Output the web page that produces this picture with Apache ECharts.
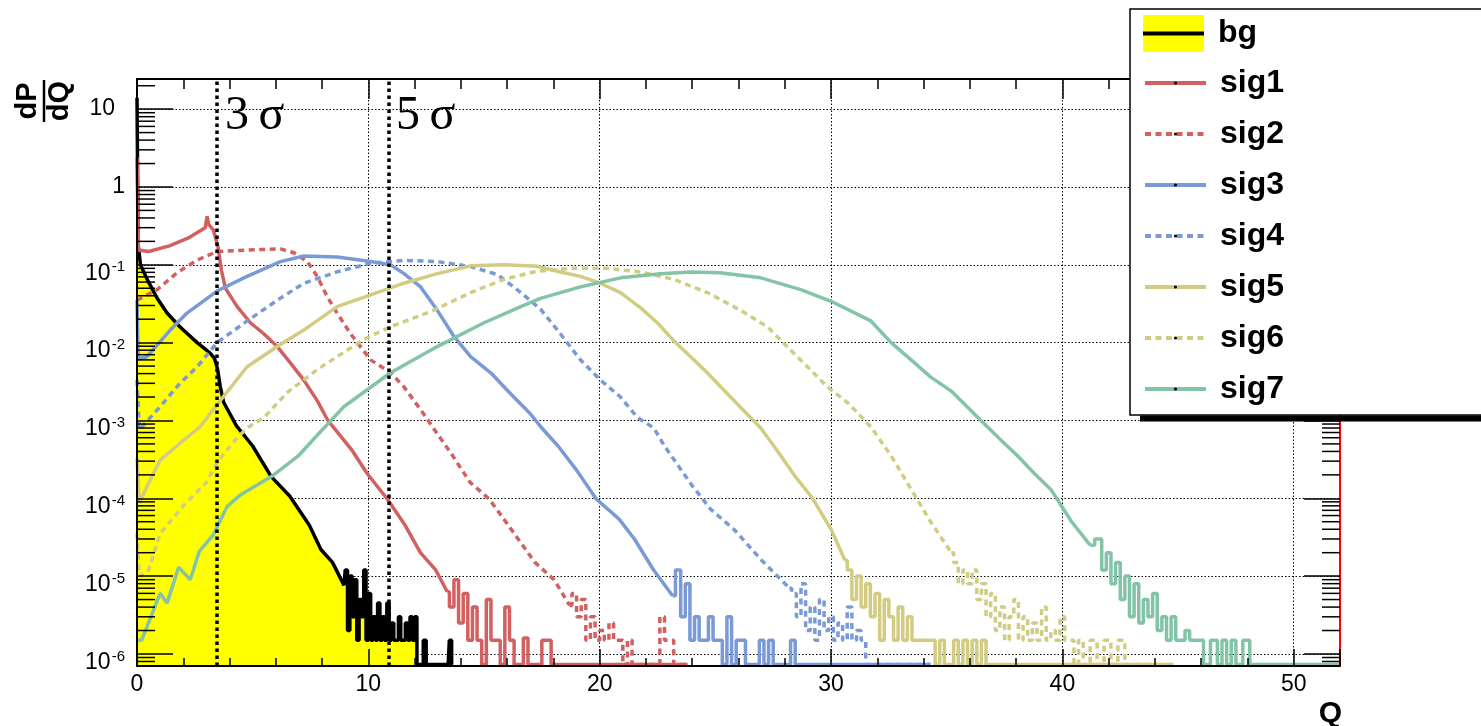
<!DOCTYPE html>
<html><head><meta charset="utf-8">
<script src="https://cdn.jsdelivr.net/npm/echarts@6/dist/echarts.min.js"></script>
<style>html,body{margin:0;padding:0;background:#fff}#c{width:1481px;height:726px}</style>
</head><body><div id="c"></div><script>
// ---- axis ranges & ticks ----
const Y_MIN = 7e-7, Y_MAX = 24.4, X_MIN = 0, X_MAX = 52;
const ZERO_LEVEL = 7.3e-7;           // where empty bins are drawn (bottom of the frame)
const xTickValues = [0, 10, 20, 30, 40, 50];
const yTickExponents = [1, 0, -1, -2, -3, -4, -5, -6];
const seriesNames = ['bg', 'sig1', 'sig2', 'sig3', 'sig4', 'sig5', 'sig6', 'sig7'];
const seriesColors = ['#ffff00', '#d26060', '#d26060', '#7a9ad6', '#7a9ad6', '#d2cc82', '#d2cc82', '#84c4a6'];
const seriesDashed = [false, false, true, false, true, false, true, false];
const sigmaPositions = [3.45, 10.87];
const sigmaLabels = ['3\u2009σ', '5\u2009σ'];

// ---- histogram values [Q, dP/dQ]  (0 = empty bin) ----
const bgBody = [[0,14],[0.05,0.18],[0.15,0.1],[0.45,0.064],[0.9,0.036],[1.3,0.024],[1.85,0.016],[2.6,0.01],[3.15,0.0074],[3.35,0.0063],[3.48,0.0046],[3.6,0.0027],[3.75,0.0017],[4.3,8.5e-4],[5.0,4.7e-4],[5.8,1.9e-4],[6.6,1.07e-4],[7.45,4.5e-5],[7.95,2.2e-5],[8.45,1.5e-5],[8.95,7.6e-6]];
const bgTail = [[9.05,1.2e-5],[9.15,2e-6],[9.25,1e-5],[9.35,3e-6],[9.45,9e-6],[9.55,1.5e-6],[9.65,5e-6],[9.75,3e-6],[9.85,1.2e-5],[9.95,1.5e-6],[10.05,6e-6],[10.15,1.5e-6],[10.25,3e-6],[10.35,1.5e-6],[10.45,4.5e-6],[10.55,1.5e-6],[10.65,3e-6],[10.75,1.5e-6],[10.85,4.5e-6],[10.95,1.5e-6],[11.05,2.5e-6],[11.15,1.5e-6],[11.25,1.5e-6],[11.35,3e-6],[11.45,1.5e-6],[11.55,1.5e-6],[11.65,2.5e-6],[11.75,1.5e-6],[11.85,3e-6],[11.95,1.5e-6],[12.05,3e-6],[12.15,0],[12.3,0],[12.45,1.5e-6],[12.55,0],[13.45,0],[13.55,1.5e-6],[13.65,0]];

const sig1Body = [[0,2.4],[0.06,0.155],[0.5,0.148],[1.4,0.175],[2.2,0.22],[2.95,0.3],[3.03,0.42],[3.1,0.33],[3.3,0.28],[3.5,0.17],[3.65,0.085],[3.82,0.05],[4.33,0.029],[4.9,0.018],[5.48,0.013],[6.06,0.0089],[6.63,0.0055],[7.21,0.0033],[7.79,0.0018],[8.25,0.001],[9.28,4.2e-4],[9.94,2.1e-4],[10.85,9.5e-5],[11.59,4.5e-5],[12.25,2e-5],[12.91,1.2e-5],[13.41,6.3e-6]];
const sig1Tail = [[13.6,4e-6],[13.8,9e-6],[14.0,2.5e-6],[14.2,6e-6],[14.4,1.5e-6],[14.6,4e-6],[14.8,1.5e-6],[15.0,0],[15.2,5e-6],[15.4,1.5e-6],[15.6,1.5e-6],[15.8,0],[16.0,4e-6],[16.2,1.5e-6],[16.4,0],[16.6,0],[16.8,1.6e-6],[17.0,0],[17.2,0],[17.4,0],[17.6,1.5e-6],[17.8,1.5e-6],[18.0,0],[23.8,0]];

const sig2Body = [[0,0.035],[0.87,0.048],[1.73,0.079],[2.6,0.115],[3.46,0.148],[4.76,0.155],[6.2,0.16],[6.78,0.143],[7.36,0.11],[7.79,0.071],[8.22,0.039],[8.65,0.024],[9.23,0.013],[10.1,0.006],[10.96,0.0041],[11.54,0.0027],[12.4,0.0012],[12.77,8.3e-4],[13.57,3.8e-4],[14.4,1.6e-4],[15.22,9.8e-5],[16.05,4.5e-5],[17.2,1.5e-5],[18.03,9e-6],[18.7,4.2e-6]];
const sig2Tail = [[18.9,6e-6],[19.1,3e-6],[19.3,5e-6],[19.5,1.5e-6],[19.7,3e-6],[19.9,1.5e-6],[20.1,2e-6],[20.3,1.5e-6],[20.5,2.5e-6],[20.7,1.5e-6],[20.9,1.5e-6],[21.1,0],[21.3,1.5e-6],[21.5,0],[22.5,0],[22.7,3e-6],[22.9,1.5e-6],[23.1,1.5e-6],[23.3,0],[23.8,0]];

const sig3Body = [[0,0.035],[0.05,0.0062],[0.43,0.0066],[1.44,0.0145],[2.16,0.024],[3.46,0.046],[4.76,0.071],[6.2,0.11],[7.21,0.13],[8.65,0.126],[10.1,0.11],[10.96,0.1],[11.54,0.077],[12.26,0.052],[12.98,0.026],[13.7,0.012],[14.42,0.0066],[15.29,0.0041],[16.15,0.0022],[17.02,0.0012],[17.45,8.3e-4],[18.2,4.7e-4],[19.0,2.3e-4],[19.85,9.8e-5],[20.84,5.4e-5],[21.5,3e-5],[22.33,1.2e-5],[23.15,5.6e-6]];
const sig3Tail = [[23.4,1.2e-5],[23.6,3e-6],[23.8,8e-6],[24.0,1.5e-6],[24.2,3e-6],[24.4,1.5e-6],[24.6,1.5e-6],[24.8,3e-6],[25.0,1.5e-6],[25.2,1.5e-6],[25.4,0],[25.6,3e-6],[25.8,0],[26.0,1.5e-6],[26.2,1.5e-6],[26.4,0],[26.8,0],[27.0,1.5e-6],[27.2,0],[27.4,1.5e-6],[27.6,0],[28.15,0],[28.35,1.5e-6],[28.55,0],[34.3,0]];

const sig4Body = [[0,3.3e-3],[0.1,7.6e-4],[1.0,1.5e-3],[1.86,3e-3],[2.6,4.9e-3],[3.46,0.01],[4.76,0.019],[6.06,0.035],[7.21,0.058],[8.65,0.081],[10.1,0.105],[11.54,0.114],[12.98,0.11],[14.42,0.095],[15.58,0.075],[16.59,0.044],[17.44,0.027],[18.3,0.013],[19.17,0.006],[20.03,0.0033],[20.9,0.002],[21.62,0.0011],[22.34,8e-4],[22.8,4.7e-4],[24.0,1.45e-4],[24.8,7.2e-5],[25.8,4e-5],[27.0,1.6e-5],[28.2,7e-6]];
const sig4Tail = [[28.4,6e-6],[28.6,3e-6],[28.8,8e-6],[29.0,2e-6],[29.2,4e-6],[29.4,1.5e-6],[29.6,5e-6],[29.8,2e-6],[30.0,3e-6],[30.2,1.5e-6],[30.4,2.5e-6],[30.6,1.5e-6],[30.8,4e-6],[31.0,1.5e-6],[31.2,2e-6],[31.4,1.5e-6],[31.6,0],[34.3,0]];

const sig5Body = [[0,3.3e-4],[0.1,8.7e-5],[0.56,1.7e-4],[1.0,3.1e-4],[1.86,5.1e-4],[2.73,8.3e-4],[3.46,1.6e-3],[4.76,4.9e-3],[6.06,8.9e-3],[7.21,0.0145],[8.65,0.029],[10.1,0.041],[11.54,0.058],[12.98,0.077],[14.42,0.097],[15.87,0.1],[17.3,0.096],[18.3,0.081],[19.17,0.071],[20.03,0.058],[20.9,0.044],[21.77,0.028],[22.49,0.018],[23.2,0.0106],[23.93,0.0066],[24.65,0.0041],[25.52,0.0022],[26.38,0.0012],[26.96,8e-4],[27.7,4e-4],[28.4,2e-4],[29.2,1e-4],[30.0,4e-5],[30.6,1.6e-5]];
const sig5Tail = [[30.8,1.2e-5],[31.0,5e-6],[31.2,1e-5],[31.4,4e-6],[31.6,8e-6],[31.8,3e-6],[32.0,6e-6],[32.2,1.5e-6],[32.4,5e-6],[32.6,3e-6],[32.8,1.5e-6],[33.0,4e-6],[33.2,1.5e-6],[33.4,3e-6],[33.6,1.5e-6],[33.8,1.5e-6],[34.0,1.5e-6],[34.2,1.5e-6],[34.4,1.5e-6],[34.6,0],[34.8,1.5e-6],[35.0,0],[35.2,0],[35.4,1.5e-6],[35.6,0],[35.8,1.5e-6],[36.0,0],[36.2,1.5e-6],[36.4,0],[36.6,1.5e-6],[36.8,0],[44.8,0]];

const sig6Body = [[0,3.6e-5],[0.1,1e-5],[0.5,1.2e-5],[1.0,3.5e-5],[2.0,8e-5],[3.0,1.6e-4],[3.5,3e-4],[4.33,6e-4],[4.76,8e-4],[5.5,1.1e-3],[6.5,2.3e-3],[7.79,4.5e-3],[9.8,0.011],[10.96,0.016],[12.69,0.025],[14.42,0.044],[15.87,0.065],[17.3,0.083],[18.88,0.09],[20.32,0.09],[21.77,0.081],[23.2,0.065],[24.65,0.044],[26.09,0.026],[27.25,0.016],[28.1,0.0089],[28.98,0.0049],[29.84,0.0027],[30.71,0.0017],[31.72,8.3e-4],[32.6,3.5e-4],[33.4,1.4e-4],[34.3,5e-5],[35.2,2e-5]];
const sig6Tail = [[35.4,1.5e-5],[35.6,8e-6],[35.8,1.2e-5],[36.0,8e-6],[36.2,1.2e-5],[36.4,5e-6],[36.6,8e-6],[36.8,3e-6],[37.0,6e-6],[37.2,2e-6],[37.4,4e-6],[37.6,1.5e-6],[37.8,3e-6],[38.0,5e-6],[38.2,1.5e-6],[38.4,3e-6],[38.6,1.5e-6],[38.8,2.5e-6],[39.0,1.5e-6],[39.2,4e-6],[39.4,1.5e-6],[39.6,2e-6],[39.8,1.5e-6],[40.0,3e-6],[40.2,1.5e-6],[40.4,1.5e-6],[40.6,0],[40.8,1.5e-6],[41.0,0],[41.4,1.5e-6],[41.6,0],[42.0,1.5e-6],[42.2,0],[42.6,1.5e-6],[42.8,0],[44.8,0]];

const sig7Body = [[0,1.5e-6],[0.2,1.5e-6],[0.6,3e-6],[1.0,6e-6],[1.3,4.5e-6],[1.8,1.3e-5],[2.3,9e-6],[2.7,2.1e-5],[3.3,3.4e-5],[3.89,7.8e-5],[4.46,1.1e-4],[5.81,1.9e-4],[6.97,3.5e-4],[7.9,7e-4],[8.94,1.5e-3],[10.96,4.1e-3],[12.98,8.9e-3],[15.0,0.018],[16.59,0.029],[17.44,0.037],[19.17,0.052],[20.9,0.068],[22.63,0.077],[23.93,0.081],[25.2,0.079],[26.96,0.068],[28.69,0.048],[30.0,0.034],[31.72,0.019],[32.6,0.01],[33.46,0.006],[34.31,0.0036],[35.18,0.0024],[35.61,0.0018],[36.48,1e-3],[37.34,5.6e-4],[38.07,3.5e-4],[38.78,2.1e-4],[39.5,1.3e-4],[40.4,5e-5],[41.2,2.5e-5]];
const sig7Tail = [[41.6,3e-5],[41.8,1.2e-5],[42.0,2e-5],[42.2,8e-6],[42.4,1.5e-5],[42.6,5e-6],[42.8,1e-5],[43.0,3e-6],[43.2,8e-6],[43.4,2.5e-6],[43.6,5e-6],[43.8,3e-6],[44.0,6e-6],[44.2,2e-6],[44.4,3e-6],[44.6,1.5e-6],[44.8,3e-6],[45.0,1.5e-6],[45.2,1.5e-6],[45.4,2e-6],[45.6,1.5e-6],[45.8,1.5e-6],[46.0,1.5e-6],[46.2,0],[46.6,1.5e-6],[46.8,0],[47.0,1.5e-6],[47.2,0],[47.4,1.5e-6],[47.6,0],[48.0,1.5e-6],[48.2,0],[52,0]];

const bodies = [bgBody, sig1Body, sig2Body, sig3Body, sig4Body, sig5Body, sig6Body, sig7Body];
const tails = [bgTail, sig1Tail, sig2Tail, sig3Tail, sig4Tail, sig5Tail, sig6Tail, sig7Tail];

// ---- build ----
const FONT = '"Liberation Sans", Arial, Helvetica, sans-serif';
const lift = pts => pts.map(p => [p[0], p[1] > 0 ? p[1] : ZERO_LEVEL]);
const series = [];
seriesNames.forEach((name, i) => {
  const isBg = i === 0;
  const common = {
    type: 'line', name, xAxisIndex: 0, yAxisIndex: 0, symbol: 'none', showSymbol: false,
    silent: true, clip: true, animation: false, z: 2, color: seriesColors[i],
    lineStyle: { color: isBg ? '#000' : seriesColors[i], width: 3.5, type: seriesDashed[i] ? [6, 4.5] : 'solid' },
    emphasis: { disabled: true }
  };
  if (isBg) common.areaStyle = { color: seriesColors[0], opacity: 1, origin: 'start' };
  const body = lift(bodies[i]);
  series.push(Object.assign({}, common, { data: body }));
  series.push(Object.assign({}, common, { step: 'middle', data: [body[body.length - 1]].concat(lift(tails[i])) }));
});
series[0].markLine = {
  silent: true, symbol: ['none', 'none'], label: { show: false }, animation: false, z: 5,
  lineStyle: { color: '#000', width: 3.5, type: [3.5, 3.5] }, emphasis: { disabled: true },
  data: sigmaPositions.map(v => ({ xAxis: v }))
};

// minor log ticks (2..9 x 10^n) on left and right frame edges
const yMinorTicks = [];
for (let e = -7; e <= 1; e++) for (let m = 2; m <= 9; m++) {
  const v = m * Math.pow(10, e);
  if (v > Y_MIN * 1.001 && v < Y_MAX) yMinorTicks.push(v);
}
series.push({
  type: 'custom', silent: true, z: 6, clip: false, xAxisIndex: 0, yAxisIndex: 0,
  data: yMinorTicks.map(v => [0, v]), encode: { x: 0, y: 1 },
  renderItem(params, api) {
    const y = api.coord([0, api.value(1)])[1];
    const cs = params.coordSys;
    const st = { stroke: '#000', lineWidth: 1.5 };
    return { type: 'group', children: [
      { type: 'line', shape: { x1: cs.x, y1: y, x2: cs.x + 18, y2: y }, style: st },
      { type: 'line', shape: { x1: cs.x + cs.width - 18, y1: y, x2: cs.x + cs.width, y2: y }, style: st }
    ] };
  }
});

const gridLine = { show: true, lineStyle: { color: '#000', width: 1, type: [1.5, 2] } };
const tickStyle = { color: '#000', width: 1.5 };

const option = {
  animation: false,
  backgroundColor: '#fff',
  grid: { left: 137, right: 141, top: 79, bottom: 60, containLabel: false, outerBoundsMode: 'none' },
  xAxis: [
    { type: 'value', min: X_MIN, max: X_MAX, interval: 10, position: 'bottom', z: 0,
      axisLine: { show: false, onZero: false }, axisTick: { show: false }, minorTick: { show: false },
      axisLabel: { show: true, margin: 7, fontSize: 23, color: '#000', fontFamily: FONT, showMaxLabel: false, hideOverlap: false,
        formatter: v => xTickValues.includes(v) ? String(v) : '' },
      splitLine: gridLine },
    { type: 'value', min: X_MIN, max: X_MAX, interval: 10, position: 'top', z: 5,
      axisLine: { show: true, onZero: false, lineStyle: { color: '#000', width: 2 } },
      axisTick: { show: true, inside: true, length: 20, lineStyle: tickStyle },
      minorTick: { show: true, splitNumber: 5, length: 10, lineStyle: tickStyle },
      axisLabel: { show: false }, splitLine: { show: false } },
    { type: 'value', min: X_MIN, max: X_MAX, interval: 10, position: 'bottom', z: 5,
      axisLine: { show: true, onZero: false, lineStyle: { color: '#000', width: 2 } },
      axisTick: { show: true, inside: true, length: 17, lineStyle: tickStyle },
      minorTick: { show: true, splitNumber: 5, length: 8, lineStyle: tickStyle },
      axisLabel: { show: false }, splitLine: { show: false } }
  ],
  yAxis: [
    { type: 'log', logBase: 10, min: Y_MIN, max: Y_MAX, position: 'left', z: 0,
      axisLine: { show: false, onZero: false }, axisTick: { show: false }, minorTick: { show: false },
      axisLabel: { show: true, margin: 12, color: '#000', hideOverlap: false,
        formatter: v => {
          const l = Math.log10(v), e = Math.round(l);
          if (Math.abs(l - e) > 1e-6 || !yTickExponents.includes(e)) return '';
          if (e === 1) return '{p|10}{sp|}';
          if (e === 0) return '{p|1}';
          return '{b|10}{s|' + e + '}';
        },
        rich: {
          p: { fontSize: 23, fontFamily: FONT, color: '#000' },
          sp: { width: 10 },
          b: { fontSize: 23, fontFamily: FONT, color: '#000', padding: [17, 0, 0, 0], verticalAlign: 'middle' },
          s: { fontSize: 15, fontFamily: FONT, color: '#000', padding: [5, 0, 0, 1], verticalAlign: 'middle' }
        } },
      splitLine: gridLine },
    { type: 'log', logBase: 10, min: Y_MIN, max: Y_MAX, position: 'right', z: 5,
      axisLine: { show: true, onZero: false, lineStyle: { color: '#ff0000', width: 2 } },
      axisTick: { show: true, inside: true, length: 36, lineStyle: tickStyle },
      minorTick: { show: false }, axisLabel: { show: false }, splitLine: { show: false } },
    { type: 'log', logBase: 10, min: Y_MIN, max: Y_MAX, position: 'left', z: 5,
      axisLine: { show: true, onZero: false, lineStyle: { color: '#000', width: 2 } },
      axisTick: { show: true, inside: true, length: 36, lineStyle: tickStyle },
      minorTick: { show: false }, axisLabel: { show: false }, splitLine: { show: false } }
  ],
  legend: [
    { orient: 'vertical', left: 1138, top: 10, itemWidth: 61, itemHeight: 37, itemGap: 14, z: 20,
      selectedMode: false, data: [{ name: 'bg', icon: 'rect' }],
      textStyle: { fontSize: 32, fontWeight: 'bold', fontFamily: FONT, color: '#000', padding: [0, 0, 0, 9] } },
    { orient: 'vertical', left: 1138, top: 60, itemWidth: 61, itemHeight: 4, itemGap: 15, z: 20,
      selectedMode: false, data: seriesNames.slice(1),
      itemStyle: { color: '#000', borderWidth: 0 },
      lineStyle: { width: 4 },
      textStyle: { fontSize: 32, fontWeight: 'bold', fontFamily: FONT, color: '#000', lineHeight: 36, padding: [0, 0, 0, 9] } }
  ],
  graphic: [
    { type: 'rect', z: 15, shape: { x: 1130, y: 9, width: 400, height: 406 }, style: { fill: '#fff', stroke: '#000', lineWidth: 1.5 } },
    { type: 'rect', z: 15, shape: { x: 1140, y: 415.5, width: 400, height: 6 }, style: { fill: '#000' } },
    { type: 'line', z: 30, shape: { x1: 1143, y1: 33.5, x2: 1204, y2: 33.5 }, style: { stroke: '#000', lineWidth: 4 } },
    { type: 'text', z: 15, x: 225, y: 92, style: { text: sigmaLabels[0], font: '48px "Liberation Serif", "DejaVu Serif", serif', fill: '#000' } },
    { type: 'text', z: 15, x: 396, y: 92, style: { text: sigmaLabels[1], font: '48px "Liberation Serif", "DejaVu Serif", serif', fill: '#000' } },
    { type: 'text', z: 15, x: 1342, y: 714, style: { text: 'Q', font: 'bold 30px ' + FONT, fill: '#000', align: 'right', verticalAlign: 'middle', textAlign: 'right', textVerticalAlign: 'middle' } },
    { type: 'group', z: 15, x: 44, y: 101, rotation: Math.PI / 2, children: [
      { type: 'text', x: 0, y: -16, style: { text: 'dP', font: 'bold 29px ' + FONT, fill: '#000', align: 'center', verticalAlign: 'middle', textAlign: 'center', textVerticalAlign: 'middle' } },
      { type: 'line', shape: { x1: -21, y1: 0, x2: 21, y2: 0 }, style: { stroke: '#000', lineWidth: 2.5 } },
      { type: 'text', x: 0, y: 16, style: { text: 'dQ', font: 'bold 29px ' + FONT, fill: '#000', align: 'center', verticalAlign: 'middle', textAlign: 'center', textVerticalAlign: 'middle' } }
    ] }
  ],
  series
};
const chart = echarts.init(document.getElementById('c'), null, { renderer: 'canvas' });
chart.setOption(option);
</script></body></html>
